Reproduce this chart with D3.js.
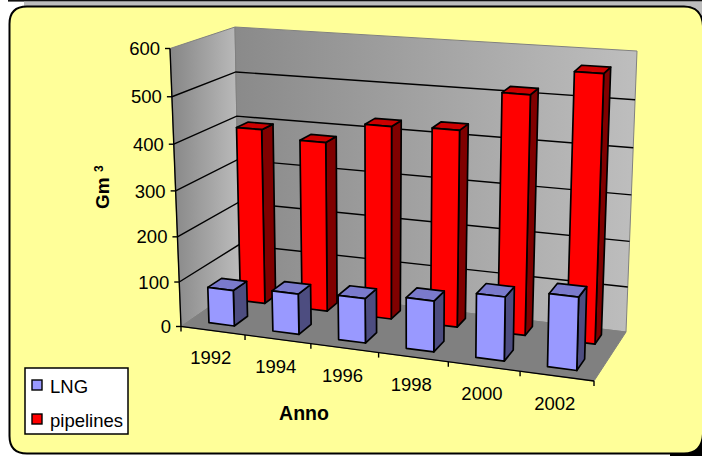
<!DOCTYPE html>
<html><head><meta charset="utf-8">
<script src="https://cdn.jsdelivr.net/npm/d3@7"></script>
<style>html,body{margin:0;padding:0;background:#fff}svg{display:block}text{font-family:"Liberation Sans",Arial,sans-serif;fill:#000}</style>
</head><body><svg id="c" width="702" height="456"></svg>
<script>
const years = [1992, 1994, 1996, 1998, 2000, 2002];
const lng = [80, 90, 98, 111, 138, 156];
const pipelines = [397, 381, 428, 432, 518, 572];
const valueTicks = [0, 100, 200, 300, 400, 500, 600];

const svg = d3.select("#c");

// Corners of the box: floor and roof, front-left, front-right, back-right, back-left
const floorCorners = [[181,326.5],[594,381],[626,332],[240,286]];
const roofCorners  = [[170,48.5],[602,85],[637,51],[235,27]];
const lerp = (a, b, t) => [a[0]+(b[0]-a[0])*t, a[1]+(b[1]-a[1])*t];
const bilinear = (q, s, v) => lerp(lerp(q[0],q[1],s), lerp(q[3],q[2],s), v);

// Mild foreshortening along the width and the height of the box
const foreshorten = k => t => t/(1+k*(1-t));
const uWarp = foreshorten(0.09), hWarp = foreshorten(0.05);

const hScale = d3.scaleLinear().domain([0,600]).range([0,1]);
const uScale = d3.scaleBand().domain(years).range([0,1]).paddingInner(0.6).paddingOuter(0.3);
const project = (u, v, value) => {
  const s = uWarp(u);
  return lerp(bilinear(floorCorners,s,v), bilinear(roofCorners,s,v), hWarp(hScale(value)));
};
const pathOf = pts => "M" + pts.map(p => p[0].toFixed(2)+","+p[1].toFixed(2)).join("L") + "Z";

// Page frame: grey band behind the top edge, heavy shadow at the lower right
svg.append("rect").attr("x",8).attr("y",0).attr("width",694).attr("height",1.6).attr("fill","#111");
svg.append("rect").attr("x",24).attr("y",1.6).attr("width",678).attr("height",30).attr("fill","#bdbdbd");
svg.append("rect").attr("x",670).attr("y",425).attr("width",32).attr("height",31).attr("fill","#000");
svg.append("path").attr("d","M9.5,24 Q9.5,6.5 27,6.5 L684,6.5 Q702,6.5 703,26 L703,434 Q702,453.5 684,453.5 L27,453.5 Q9.5,453.5 9.5,436 Z")
  .attr("fill","#ffff99").attr("stroke","#000").attr("stroke-width",2);

const defs = svg.append("defs");
function wallGradient(id, stops) {
  const g = defs.append("linearGradient").attr("id",id);
  stops.forEach((s,i) => g.append("stop").attr("offset",i/(stops.length-1)).attr("stop-color",s));
}
wallGradient("leftWall",["#868686","#bcbcbc"]);
wallGradient("backWall",["#8a8a8a","#bebebe"]);

// Walls and floor
svg.append("path").attr("d",pathOf([project(0,0,0),project(0,1,0),project(0,1,600),project(0,0,600)]))
  .attr("fill","url(#leftWall)").attr("stroke","#808080").attr("stroke-width",1);
svg.append("path").attr("d",pathOf([project(0,1,0),project(1,1,0),project(1,1,600),project(0,1,600)]))
  .attr("fill","url(#backWall)").attr("stroke","#808080").attr("stroke-width",1);
svg.append("path").attr("d",pathOf([project(0,0,0),project(1,0,0),project(1,1,0),project(0,1,0)]))
  .attr("fill","#808080").attr("stroke","#808080");

// Gridlines on the left and back walls
valueTicks.filter(d => d>0 && d<600).forEach(d => {
  svg.append("path").attr("fill","none").attr("stroke","#000").attr("stroke-width",1.4)
    .attr("d", d3.line()([project(0,0,d),project(0,1,d),project(1,1,d)]));
});

// Axes
const axis = svg.append("g").attr("stroke","#000").attr("stroke-width",1.4);
axis.append("path").attr("fill","none").attr("d",d3.line()([project(0,0,600),project(0,0,0),project(1,0,0)]));
valueTicks.forEach(d => {
  const p = project(0,0,d);
  axis.append("line").attr("x1",p[0]-5).attr("x2",p[0]).attr("y1",p[1]).attr("y2",p[1]);
  svg.append("text").attr("x",p[0]-10).attr("y",p[1]).attr("dy","0.36em").attr("text-anchor","end").attr("font-size",18.5).text(d);
});
d3.range(0,7).forEach(i => {
  const p = project(i/6,0,0);
  axis.append("line").attr("x1",p[0]).attr("x2",p[0]).attr("y1",p[1]).attr("y2",p[1]+5);
});
years.forEach((y,i) => {
  const p = project((i+0.5)/6,0,0);
  svg.append("text").attr("x",p[0]-2).attr("y",p[1]+27).attr("dy","0.36em").attr("text-anchor","middle").attr("font-size",18.5).text(y);
});

// One 3D bar per value; the rear row is drawn first so the front row overlaps it
function drawBars(values, v0, v1, front, top, side) {
  const bw = uScale.bandwidth();
  values.forEach((val,i) => {
    const u0 = uScale(years[i]), u1 = u0+bw;
    const g = svg.append("g").attr("stroke","#000").attr("stroke-width",1.7).attr("stroke-linejoin","round");
    g.append("path").attr("fill",side).attr("d",pathOf([project(u1,v0,0),project(u1,v1,0),project(u1,v1,val),project(u1,v0,val)]));
    g.append("path").attr("fill",top).attr("d",pathOf([project(u0,v0,val),project(u1,v0,val),project(u1,v1,val),project(u0,v1,val)]));
    g.append("path").attr("fill",front).attr("d",pathOf([project(u0,v0,0),project(u1,v0,0),project(u1,v0,val),project(u0,v0,val)]));
  });
}
drawBars(pipelines, 0.70, 0.89, "#ff0000", "#cc0000", "#800000");
drawBars(lng, 0.155, 0.39, "#9999ff", "#7a7acc", "#4d4d80");

// Axis titles
svg.append("text").attr("x",304).attr("y",413).attr("dy","0.36em").attr("text-anchor","middle").attr("font-size",19.5).attr("font-weight","bold").text("Anno");
const gm = svg.append("text").attr("transform","translate(109,209) rotate(-90)").attr("font-size",19).attr("font-weight","bold");
gm.append("tspan").text("Gm ");
gm.append("tspan").attr("font-size",12).attr("dy",-6).text("3");

// Legend
svg.append("rect").attr("x",25).attr("y",368).attr("width",103).attr("height",66).attr("fill","#fff").attr("stroke","#000").attr("stroke-width",1.5);
[["LNG","#9999ff",385],["pipelines","#ff0000",419]].forEach(([name,col,y]) => {
  svg.append("rect").attr("x",32).attr("y",y-5).attr("width",10).attr("height",10).attr("fill",col).attr("stroke","#000").attr("stroke-width",1.4);
  svg.append("text").attr("x",50).attr("y",y+1).attr("dy","0.36em").attr("font-size",18.5).text(name);
});
</script></body></html>
